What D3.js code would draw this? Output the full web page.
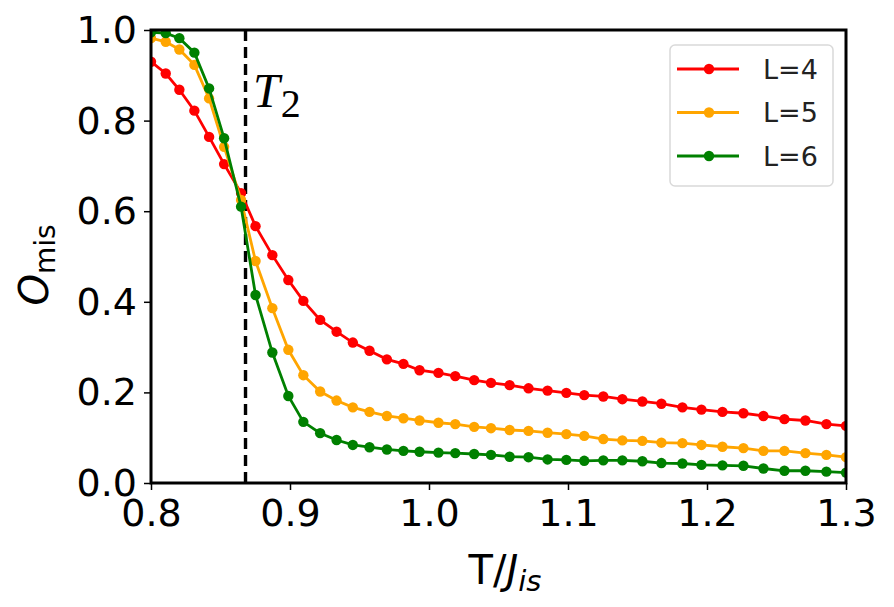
<!DOCTYPE html>
<html><head><meta charset="utf-8">
<script src="https://cdn.jsdelivr.net/npm/d3@7"></script>
<style>body{margin:0;background:#fff}svg{display:block}</style>
</head><body>
<svg id="chart" width="894" height="607"></svg>
<script>
const temps = [0.800,0.8106,0.8204,0.8312,0.8418,0.8526,0.8648,0.8752,0.8873,0.8988,
  0.9096,0.9217,0.9335,0.9452,0.9572,0.9697,0.9816,0.9932,1.0068,1.0189,
  1.0325,1.0446,1.0580,1.0716,1.0853,1.0988,1.1117,1.1254,1.1391,1.1535,
  1.1672,1.1823,1.1960,1.2111,1.2262,1.2406,1.2557,1.2708,1.2859,1.300];
const omisL4 = [0.930,0.904,0.868,0.822,0.764,0.704,0.640,0.567,0.503,0.448,
  0.402,0.360,0.334,0.310,0.292,0.273,0.263,0.249,0.243,0.236,
  0.227,0.221,0.216,0.209,0.204,0.199,0.194,0.191,0.185,0.180,
  0.175,0.167,0.162,0.157,0.154,0.148,0.141,0.138,0.130,0.126];
const omisL5 = [0.982,0.974,0.957,0.923,0.849,0.742,0.625,0.490,0.386,0.294,
  0.238,0.202,0.182,0.167,0.157,0.148,0.143,0.138,0.133,0.130,
  0.124,0.121,0.117,0.115,0.111,0.108,0.104,0.097,0.094,0.093,
  0.089,0.088,0.084,0.080,0.077,0.071,0.071,0.066,0.062,0.057];
const omisL6 = [0.995,0.993,0.982,0.950,0.871,0.761,0.610,0.415,0.288,0.192,
  0.135,0.110,0.095,0.084,0.079,0.074,0.071,0.069,0.067,0.066,
  0.064,0.062,0.058,0.057,0.052,0.051,0.049,0.050,0.050,0.048,
  0.044,0.043,0.040,0.039,0.038,0.032,0.027,0.027,0.025,0.023];
const seriesNames = ["L=4","L=5","L=6"];
const seriesColors = ["#ff0000","#ffa500","#008000"];
const xTicks = [0.8,0.9,1.0,1.1,1.2,1.3];
const yTicks = [0.0,0.2,0.4,0.6,0.8,1.0];
const T2 = 0.868;

const series = [omisL4, omisL5, omisL6].map((vals,i)=>({
  name: seriesNames[i], color: seriesColors[i],
  pts: vals.map((v,j)=>({t: temps[j], v}))
}));

const svg = d3.select("#chart");
const L = 151, R = 846, T = 30, B = 483;
const x = d3.scaleLinear().domain([0.8,1.3]).range([L,R]);
const y = d3.scaleLinear().domain([0,1]).range([B,T]);

svg.append("defs").append("clipPath").attr("id","clip")
  .append("rect").attr("x",L).attr("y",T).attr("width",R-L).attr("height",B-T);

const plot = svg.append("g").attr("clip-path","url(#clip)");
const line = d3.line().x(d=>x(d.t)).y(d=>y(d.v));

// dashed T2 line
plot.append("line").attr("x1",x(T2)).attr("x2",x(T2)).attr("y1",T).attr("y2",B)
  .attr("stroke","#000").attr("stroke-width",3.4).attr("stroke-dasharray","11,6");

series.forEach(s=>{
  plot.append("path").datum(s.pts).attr("d",line).attr("fill","none")
    .attr("stroke",s.color).attr("stroke-width",2.8);
  plot.selectAll(null).data(s.pts).enter().append("circle")
    .attr("cx",d=>x(d.t)).attr("cy",d=>y(d.v)).attr("r",5.2).attr("fill",s.color);
});

// axes
const fontTick = "'DejaVu Sans', sans-serif";
const xAxis = d3.axisBottom(x).tickValues(xTicks).tickFormat(d3.format(".1f")).tickSize(7).tickPadding(9);
const yAxis = d3.axisLeft(y).tickValues(yTicks).tickFormat(d3.format(".1f")).tickSize(7).tickPadding(7);
const gx = svg.append("g").attr("transform",`translate(0,${B})`).call(xAxis);
const gy = svg.append("g").attr("transform",`translate(${L},0)`).call(yAxis);
[gx,gy].forEach(g=>{
  g.select(".domain").remove();
  g.selectAll(".tick line").attr("stroke","#000").attr("stroke-width",1.5);
  g.selectAll(".tick text").attr("fill","#000").style("font-family",fontTick).style("font-size","38px");
});
gx.selectAll(".tick text").attr("dy","0.72em");
gy.selectAll(".tick text").attr("dy","0.33em");

// frame
svg.append("rect").attr("x",L).attr("y",T).attr("width",R-L).attr("height",B-T)
  .attr("fill","none").attr("stroke","#000").attr("stroke-width",3);

// T2 label
const t2 = svg.append("text").attr("x",253).attr("y",107)
  .style("font-family","'Liberation Serif','Times New Roman',serif").attr("fill","#000");
t2.append("tspan").style("font-style","italic").style("font-size","48px").text("T");
t2.append("tspan").style("font-size","40px").attr("dy",10).attr("dx",1).text("2");

// x label
const xl = svg.append("text").attr("x",505).attr("y",584).attr("text-anchor","middle")
  .style("font-family",fontTick).style("font-size","40px").attr("fill","#000");
xl.append("tspan").text("T/");
xl.append("tspan").style("font-style","italic").text("J");
xl.append("tspan").style("font-style","italic").style("font-size","29px").attr("dy",7).text("is");

// y label
const yl = svg.append("text").attr("transform","translate(48,265) rotate(-90)")
  .attr("text-anchor","middle").style("font-family",fontTick).style("font-size","40px").attr("fill","#000");
yl.append("tspan").style("font-style","italic").text("O");
yl.append("tspan").style("font-size","28px").attr("dy",7).text("mis");

// legend
const lg = svg.append("g");
lg.append("rect").attr("x",670).attr("y",45).attr("width",163).attr("height",141).attr("rx",5)
  .attr("fill","#fff").attr("fill-opacity",0.8).attr("stroke","#d9d9d9").attr("stroke-width",1.5);
series.forEach((s,i)=>{
  const yy = 69 + i*43.5;
  lg.append("line").attr("x1",677).attr("x2",739).attr("y1",yy).attr("y2",yy)
    .attr("stroke",s.color).attr("stroke-width",2.8);
  lg.append("circle").attr("cx",709).attr("cy",yy).attr("r",5.2).attr("fill",s.color);
  lg.append("text").attr("x",763).attr("y",yy).attr("dy","0.36em")
    .style("font-family",fontTick).style("font-size","27px").attr("fill","#222").text(s.name);
});
</script>
</body></html>
